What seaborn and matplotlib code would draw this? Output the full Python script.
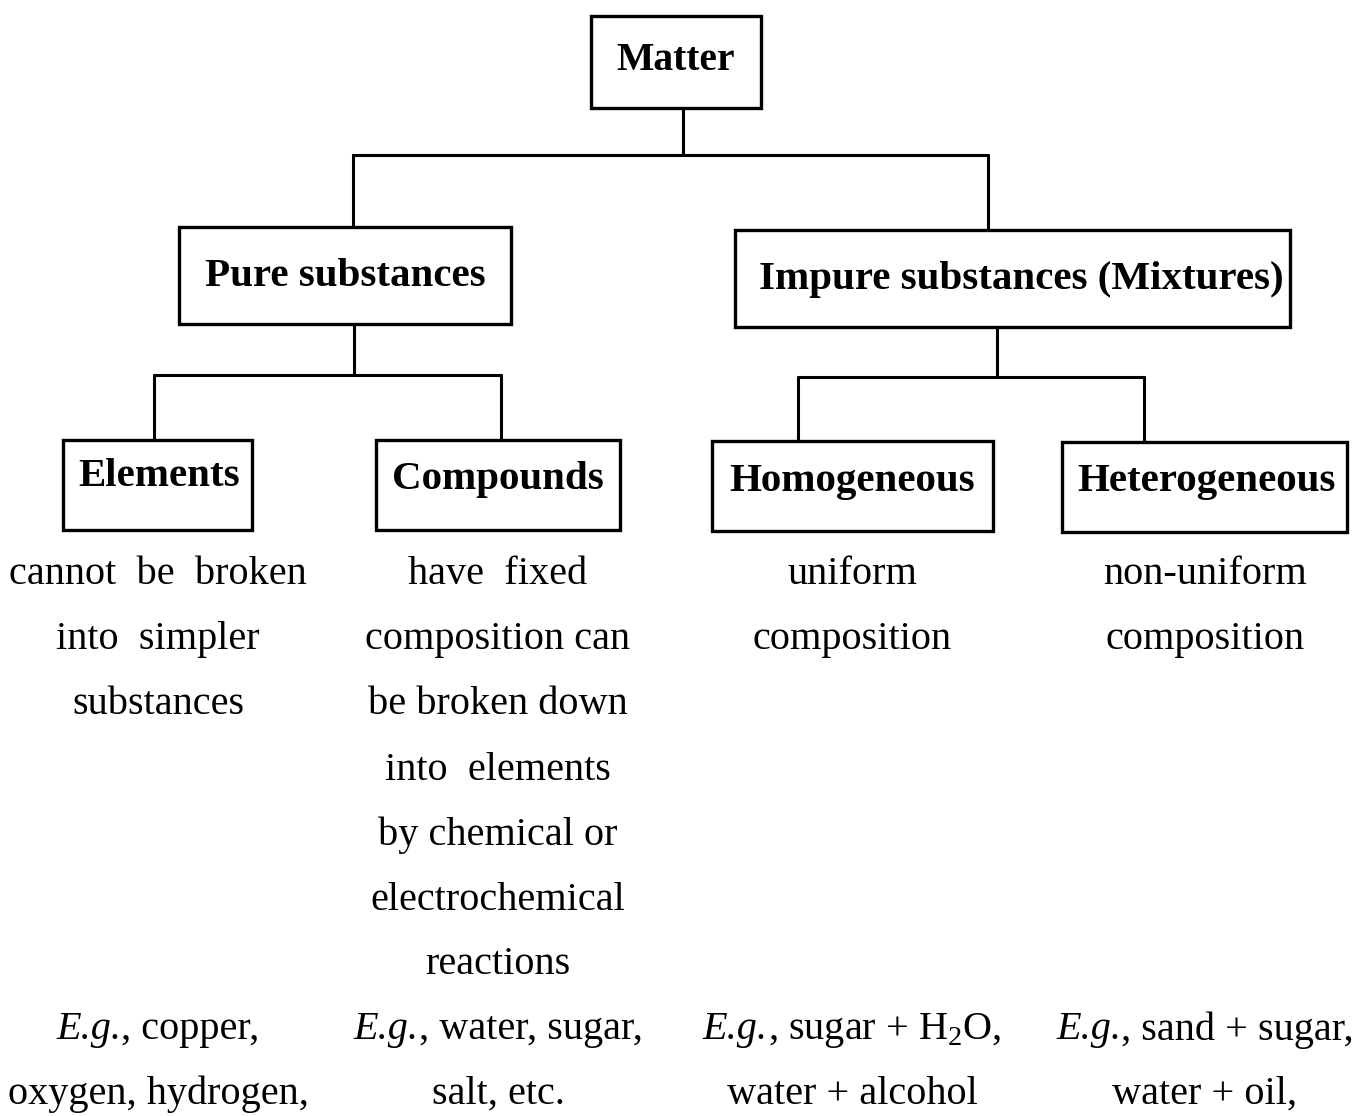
import matplotlib.pyplot as plt
import seaborn as sns
import pandas as pd
from matplotlib.patches import Rectangle

# --- chart content -------------------------------------------------------
root_label = "Matter"
level1_labels = ["Pure substances", "Impure substances (Mixtures)"]
level2_labels = ["Elements", "Compounds", "Homogeneous", "Heterogeneous"]

descriptions = [
    ["cannot  be  broken", "into  simpler", "substances"],
    ["have  fixed", "composition can", "be broken down", "into  elements",
     "by chemical or", "electrochemical", "reactions"],
    ["uniform", "composition"],
    ["non-uniform", "composition"],
]

eg_prefix = "E.g."
examples_first = [", copper,", ", water, sugar,", ", sugar + H$_2$O,",
                  ", sand + sugar,"]
examples_second = ["oxygen, hydrogen,", "salt, etc.", "water + alcohol",
                   "water + oil,"]

# --- layout (pixel coords, y grows downward) -----------------------------
root_box = (591, 16, 761, 108)
level1_boxes = [(179, 227, 511, 324), (735, 230, 1290, 327)]
level2_boxes = [(63, 440, 252, 530), (376, 440, 620, 530),
                (712, 441, 993, 531), (1062, 442, 1347, 532)]
root_text = (676, 61)
level1_text = [(345, 276), (1021, 280)]
level2_text = [(159, 477), (498, 479), (852, 481), (1206, 482)]
col_x = [158, 498, 852, 1205]

# elbow connectors: (stem x, stem top, bus y, [child xs], [child tops])
connectors = [
    (683, 108, 155, [353, 988], [227, 230]),
    (354, 324, 375, [154, 501], [440, 440]),
    (997, 327, 377, [798, 1144], [441, 442]),
]

sns.set_style("white")
plt.rcParams["font.family"] = ["Liberation Serif", "DejaVu Serif"]
plt.rcParams["mathtext.fontset"] = "custom"
plt.rcParams["mathtext.rm"] = "Liberation Serif"
plt.rcParams["text.color"] = "black"

fig = plt.figure(figsize=(13.63, 11.16), dpi=100)
ax = fig.add_axes([0, 0, 1, 1])

# connector lines
rows = []
seg = 0
for sx, stop, bus, cxs, ctops in connectors:
    rows += [(seg, sx, stop), (seg, sx, bus)]
    seg += 1
    rows += [(seg, min(cxs), bus), (seg, max(cxs), bus)]
    seg += 1
    for cx, ct in zip(cxs, ctops):
        rows += [(seg, cx, bus), (seg, cx, ct)]
        seg += 1
lines = pd.DataFrame(rows, columns=["seg", "x", "y"])
sns.lineplot(data=lines, x="x", y="y", units="seg", estimator=None,
             sort=False, color="black", linewidth=2.2, ax=ax, legend=False)
ax.set_xlim(0, 1363)
ax.set_ylim(1116, 0)
ax.axis("off")


def draw_box(box, label, pos, size):
    x0, y0, x1, y1 = box
    ax.add_patch(Rectangle((x0, y0), x1 - x0, y1 - y0, fill=False,
                           edgecolor="black", linewidth=2.4))
    ax.text(pos[0], pos[1], label, ha="center", va="center",
            fontsize=size, fontweight="bold", color="black")


draw_box(root_box, root_label, root_text, 28.5)
for b, lab, p in zip(level1_boxes, level1_labels, level1_text):
    draw_box(b, lab, p, 29.5)
for b, lab, p in zip(level2_boxes, level2_labels, level2_text):
    draw_box(b, lab, p, 29.5)

# descriptions under each category
for x, lines_txt in zip(col_x, descriptions):
    for i, t in enumerate(lines_txt):
        ax.text(x, 575 + i * 65, t, ha="center", va="center", fontsize=29,
                color="black")

# examples: italic "E.g." followed by upright text, centred together
renderer = fig.canvas.get_renderer()
for x, rest, second in zip(col_x, examples_first, examples_second):
    t1 = ax.text(0, 1030, eg_prefix, ha="left", va="center", fontsize=29,
                 fontstyle="italic", color="black")
    t2 = ax.text(0, 1030, rest, ha="left", va="center", fontsize=29,
                 color="black")
    w1 = t1.get_window_extent(renderer).width
    w2 = t2.get_window_extent(renderer).width
    left = x - (w1 + w2) / 2
    t1.set_x(left)
    t2.set_x(left + w1)
    ax.text(x, 1094, second, ha="center", va="center", fontsize=29,
            color="black")

fig.savefig("out.png", dpi=100)
